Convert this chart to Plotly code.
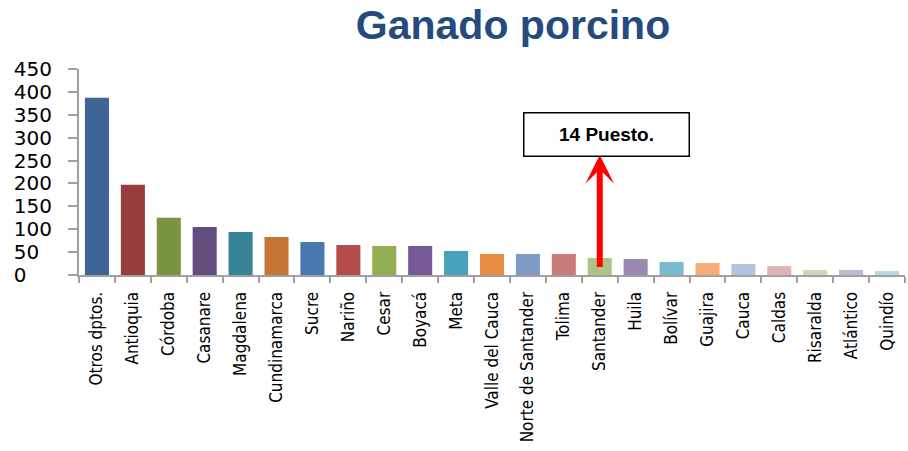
import plotly.graph_objects as go

title_text = "Ganado porcino"
categories = ["Otros dptos.", "Antioquia", "Córdoba", "Casanare", "Magdalena", "Cundinamarca",
              "Sucre", "Nariño", "Cesar", "Boyacá", "Meta", "Valle del Cauca",
              "Norte de Santander", "Tolima", "Santander", "Huila", "Bolívar", "Guajira",
              "Cauca", "Caldas", "Risaralda", "Atlántico", "Quindío"]
values = [387, 197, 125, 105, 94, 83, 72, 65.5, 63.5, 63.5, 52.5, 46, 46, 46, 37, 35,
          28.5, 26, 24, 19.5, 11, 11, 8.5]
bar_colors = ["#3D6596", "#963C3A", "#7A9441", "#634D7E", "#378496", "#C27535",
              "#4A78B0", "#B44C4A", "#93AF54", "#765A96", "#48A1BA", "#E88C42",
              "#7E9BC8", "#C97D7B", "#ABC387", "#9C89B2", "#7ABACE", "#F8AB79",
              "#B3C3DF", "#DEB5B4", "#CDDAB6", "#C4B8D5", "#B5D8E2"]
y_ticks = [0, 50, 100, 150, 200, 250, 300, 350, 400, 450]
FS = "\u2007"
y_ticktext = [str(v) + FS * (3 - len(str(v))) for v in y_ticks]

highlight = "Santander"
highlight_label = "14 Puesto."

fig = go.Figure()
fig.add_trace(go.Bar(x=categories, y=values, marker=dict(color=bar_colors, line=dict(width=0)),
                     showlegend=False, hoverinfo="x+y"))

AX = "#A0A0A0"
fig.update_layout(
    width=908, height=451,
    margin=dict(l=79, r=3, t=69, b=176),
    paper_bgcolor="white", plot_bgcolor="white",
    bargap=0.33,
    title=dict(text="<b>" + title_text + "</b>", x=0.565, xanchor="center", y=0.945, yanchor="middle",
               font=dict(family="Liberation Sans, Arial, sans-serif", size=41, color="#244A7E")),
    xaxis=dict(type="category", showline=True, linecolor=AX, linewidth=2, automargin=False,
               ticks="outside", tickson="boundaries", ticklen=6, tickcolor=AX, tickwidth=1.5,
               tickangle=-90, showgrid=False, zeroline=False, ticklabelstandoff=8,
               tickfont=dict(family="DejaVu Sans Condensed, Arial Narrow, sans-serif",
                             size=17, color="black")),
    yaxis=dict(range=[0, 450], tickvals=y_ticks, ticktext=y_ticktext, showline=True, linecolor=AX,
               linewidth=2, ticks="outside", ticklen=9, tickcolor=AX, tickwidth=1.5, automargin=False,
               showgrid=False, zeroline=False, ticklabelstandoff=12,
               tickfont=dict(family="DejaVu Sans, sans-serif", size=20, color="black")),
)

idx = categories.index(highlight)
fig.add_annotation(x=highlight, y=262, ax=highlight, ay=14, xref="x", yref="y", axref="x", ayref="y",
                   text="", showarrow=True, arrowhead=3, arrowsize=0.8, arrowwidth=6, arrowcolor="#FF0000")
fig.add_annotation(x=idx + 0.2, y=306, xref="x", yref="y", text="<b>" + highlight_label + "</b>",
                   showarrow=False, width=162, height=40, bordercolor="black", borderwidth=1.5,
                   bgcolor="white", font=dict(family="Liberation Sans, Arial, sans-serif", size=19, color="black"))

fig.write_html("out.html", config={"displayModeBar": False},
               post_script="document.body.style.margin='0';")
